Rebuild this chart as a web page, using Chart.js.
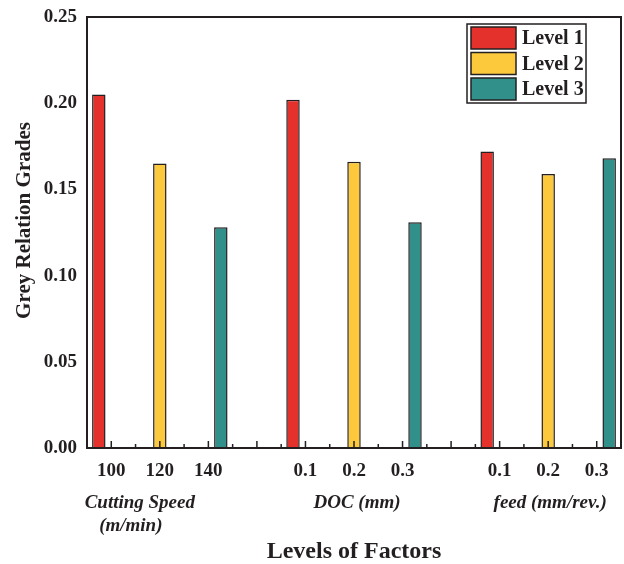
<!DOCTYPE html>
<html>
<head>
<meta charset="utf-8">
<script src="https://cdn.jsdelivr.net/npm/chart.js@4"></script>
<style>
html, body { margin: 0; padding: 0; background: #fff; }
</style>
</head>
<body>
<canvas id="greyChart" width="624" height="564"></canvas>
<script>
//============================== DATA ===========================
const levels = ["100", "120", "140", "", "0.1", "0.2", "0.3", "", "0.1", "0.2", "0.3"];
const level1 = [0.205, null, null, null, 0.202, null, null, null, 0.172, null, null];
const level2 = [null, 0.165, null, null, null, 0.166, null, null, null, 0.159, null];
const level3 = [null, null, 0.128, null, null, null, 0.131, null, null, null, 0.168];
const seriesNames = ["Level 1", "Level 2", "Level 3"];
const factorNames = [["Cutting Speed", "(m/min)"], ["DOC (mm)"], ["feed (mm/rev.)"]];
const factorAt = [1, 5, 9];

const serif = "'Liberation Serif', 'Times New Roman', serif";
const ink = "#231f20";
const colors = ["#e5312b", "#fdc93c", "#31918a"];

//============================== EXTRAS ===========================
const decor = {
    id: "decor",
    afterDatasetsDraw(chart) {
        const ctx = chart.ctx;
        const a = chart.chartArea;
        const x = chart.scales.x;
        ctx.save();

        // inward tick marks: long at categories, short between them
        ctx.strokeStyle = ink;
        ctx.lineWidth = 1.5;
        const n = chart.data.labels.length;
        const half = (x.getPixelForValue(1) - x.getPixelForValue(0)) / 2;
        ctx.beginPath();
        for (let i = 0; i < n; i++) {
            const px = x.getPixelForValue(i);
            ctx.moveTo(px, a.bottom);
            ctx.lineTo(px, a.bottom - 7);
            if (i < n - 1) {
                ctx.moveTo(px + half, a.bottom);
                ctx.lineTo(px + half, a.bottom - 4);
            }
        }
        ctx.stroke();

        // frame
        ctx.lineWidth = 2;
        ctx.strokeRect(a.left, a.top, a.right - a.left, a.bottom - a.top);

        // legend box
        const lx = a.right - 154, ly = a.top + 7;
        ctx.lineWidth = 1.5;
        ctx.strokeRect(lx, ly, 119, 79);
        ctx.font = "bold 20px " + serif;
        ctx.textAlign = "left";
        ctx.textBaseline = "middle";
        chart.data.datasets.forEach((ds, i) => {
            const y = ly + 3 + i * 25.5;
            ctx.fillStyle = ds.backgroundColor;
            ctx.fillRect(lx + 4, y, 45, 22);
            ctx.strokeStyle = ink;
            ctx.strokeRect(lx + 4, y, 45, 22);
            ctx.fillStyle = ink;
            ctx.fillText(ds.label, lx + 55, y + 12);
        });

        // y axis title
        ctx.save();
        ctx.translate(a.left - 62, (a.top + a.bottom) / 2 - 12);
        ctx.rotate(-Math.PI / 2);
        ctx.font = "bold 21px " + serif;
        ctx.textAlign = "center";
        ctx.fillStyle = ink;
        ctx.fillText("Grey Relation Grades", 0, 0);
        ctx.restore();

        // factor group names
        ctx.font = "italic bold 19px " + serif;
        ctx.textAlign = "center";
        ctx.fillStyle = ink;
        const shift = [-20, 3, 2];
        factorNames.forEach((lines, k) => {
            const px = x.getPixelForValue(factorAt[k]) + shift[k];
            lines.forEach((t, j) => {
                ctx.fillText(t, px - j * 9, a.bottom + 55 + j * 23);
            });
        });

        ctx.restore();
    }
};

//============================== CHART ===========================
const chart_data = {
    labels: levels,
    datasets: [
        { label: seriesNames[0], data: level1, backgroundColor: colors[0] },
        { label: seriesNames[1], data: level2, backgroundColor: colors[1] },
        { label: seriesNames[2], data: level3, backgroundColor: colors[2] },
    ].map(d => Object.assign(d, {
        borderColor: ink,
        borderWidth: 1.5,
        barPercentage: 1.08,
        categoryPercentage: 0.77,
    })),
};

const chart_config = {
    type: "bar",
    data: chart_data,
    plugins: [decor],
    options: {
        responsive: false,
        animation: false,
        layout: { padding: { top: 17, right: 3, bottom: 0, left: 0 } },
        plugins: {
            legend: { display: false },
            tooltip: { enabled: false },
        },
        scales: {
            x: {
                offset: true,
                grid: { display: false, drawTicks: false },
                border: { display: false },
                ticks: {
                    autoSkip: false,
                    maxRotation: 0,
                    padding: 12,
                    color: ink,
                    font: { family: serif, size: 19, weight: "bold" },
                },
                title: {
                    display: true,
                    text: "Levels of Factors",
                    color: ink,
                    font: { family: serif, size: 24, weight: "bold", lineHeight: 1 },
                    padding: { top: 0, bottom: 0 },
                },
                afterFit(s) { s.height = 116; },
            },
            y: {
                min: 0,
                max: 0.25,
                // tickLength (not padding) keeps labels off the axis without shrinking the plot
                grid: { display: false, drawTicks: true, tickLength: 10 },
                border: { display: false },
                ticks: {
                    stepSize: 0.05,
                    padding: 0,
                    color: ink,
                    font: { family: serif, size: 19, weight: "bold" },
                    callback: v => Number(v).toFixed(2),
                },
                afterFit(s) { s.width = 87; },
            },
        },
    },
};

const greyChart = new Chart(document.getElementById("greyChart").getContext("2d"), chart_config);
</script>
</body>
</html>
